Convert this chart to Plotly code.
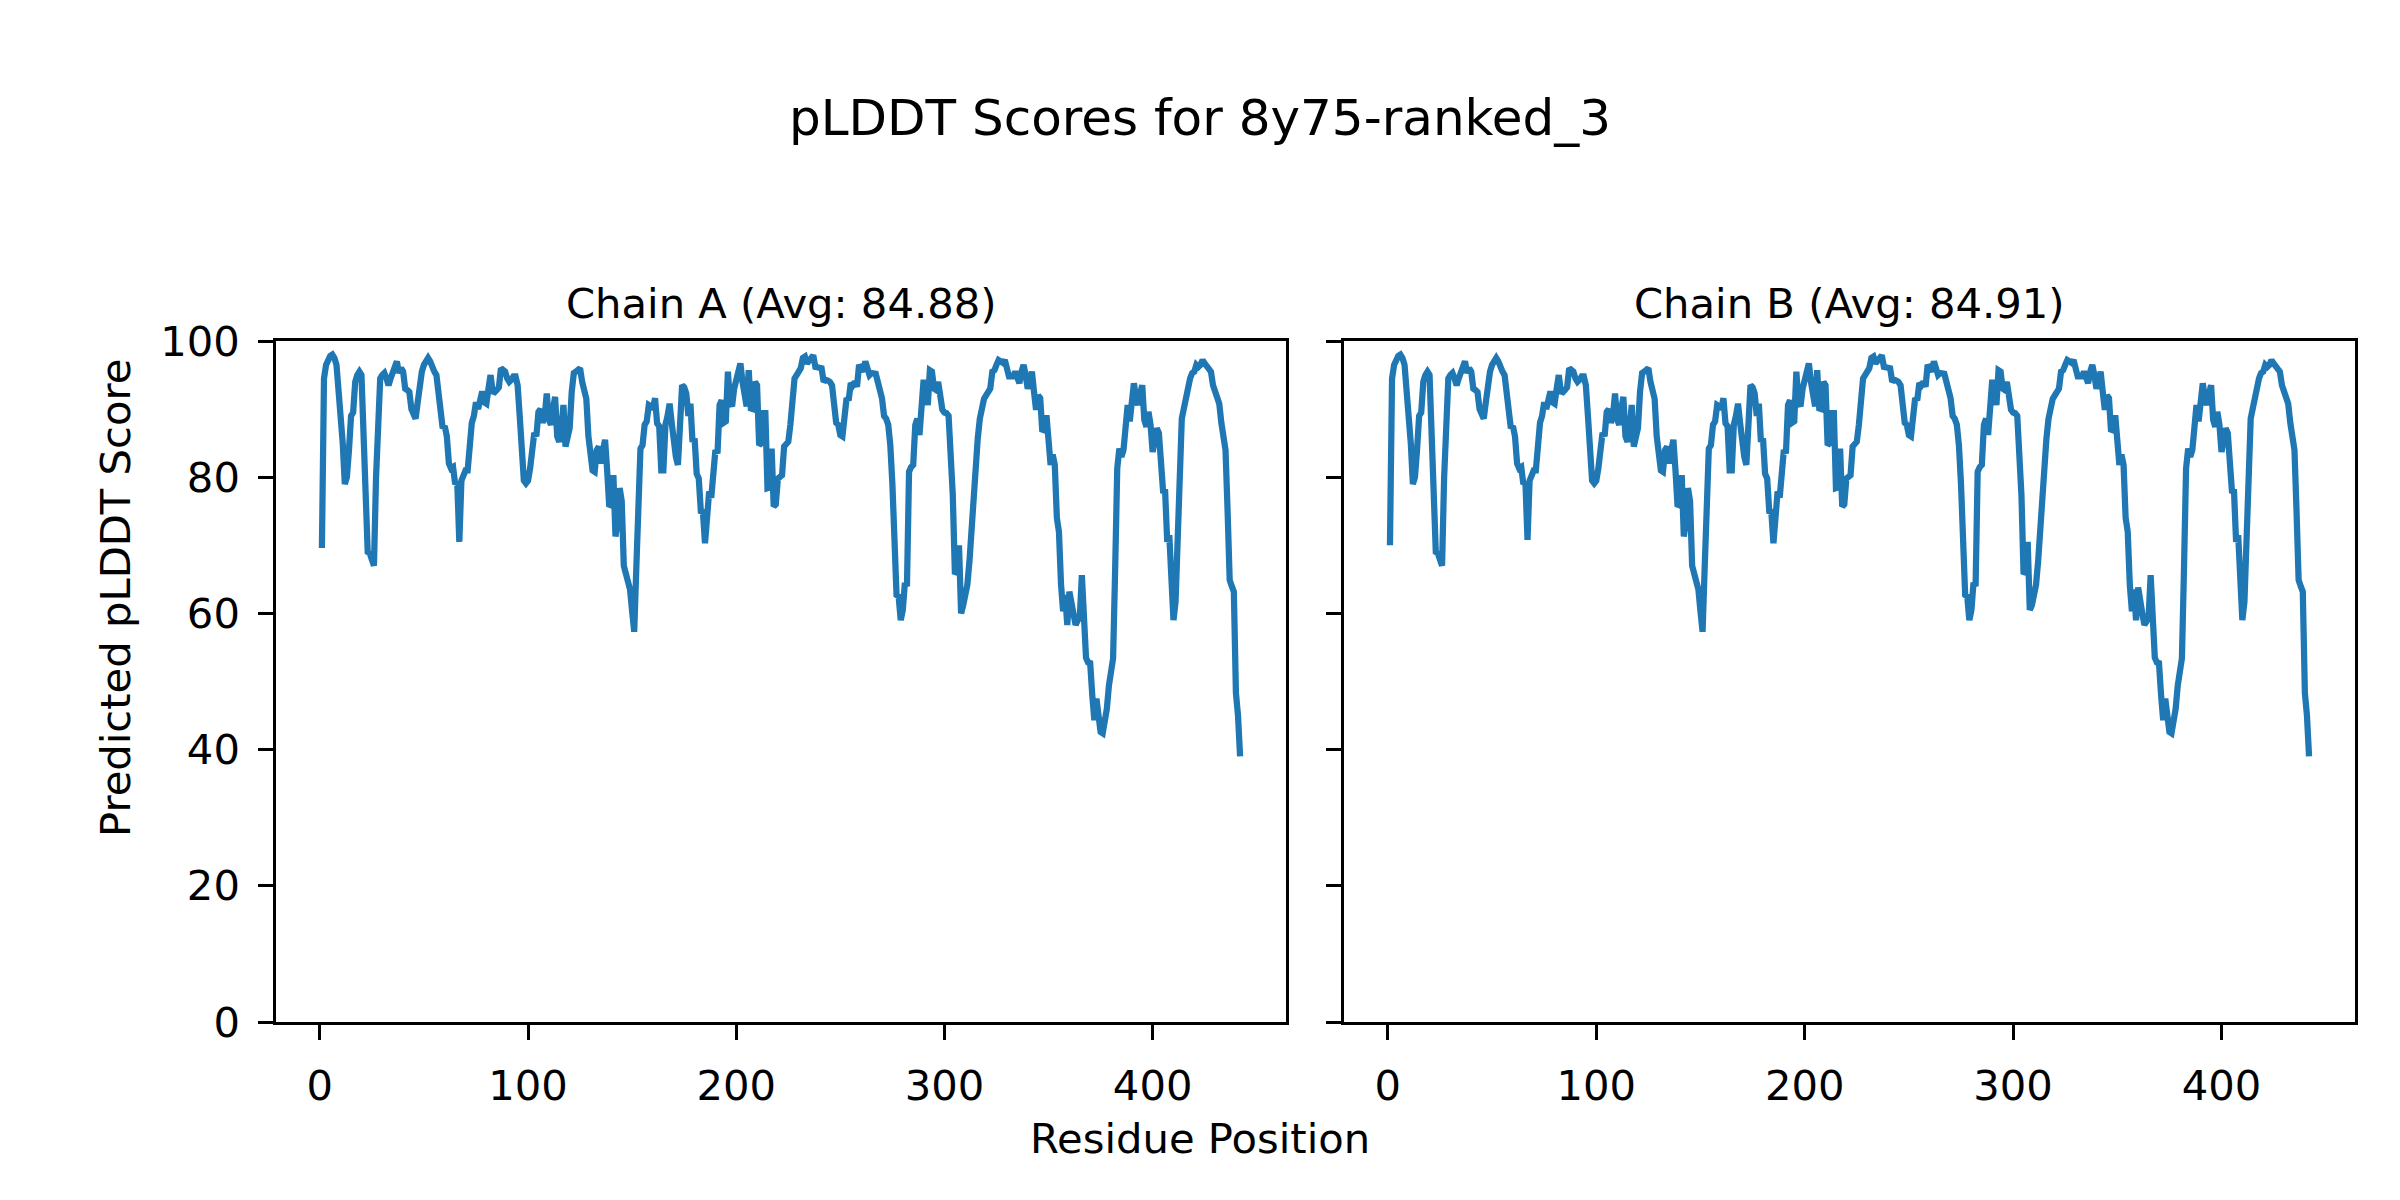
import plotly.graph_objects as go

title_text = "pLDDT Scores for 8y75-ranked_3"
chain_titles = ["Chain A (Avg: 84.88)", "Chain B (Avg: 84.91)"]
x_label = "Residue Position"
y_label = "Predicted pLDDT Score"
x_ticks = [0, 100, 200, 300, 400]
y_ticks = [0, 20, 40, 60, 80, 100]

chain_a_scores = [
    69.6, 94.5, 96.5, 97.5, 97.8, 98, 97.5, 96.5, 93, 90,
    85, 79, 80, 84, 89, 89.5, 94, 95, 95.5, 95,
    86, 74, 69, 68.8, 67.5, 67, 80, 90, 94.5, 95,
    95.3, 94.5, 93.5, 94.5, 95.5, 96.5, 97, 95.3, 96, 95.5,
    93, 92.8, 92.5, 90, 89, 88.6, 91, 94.5, 95.5, 96.5,
    97, 97.5, 97, 96, 95.5, 95, 92, 89.6, 87.2, 87.5,
    86, 82, 81.3, 81.5, 79, 79.3, 70.5, 79.5, 80.3, 81,
    81, 86, 88, 89, 91, 90, 91.5, 92.6, 91, 90.8,
    93, 95, 92.6, 92.5, 92.8, 93.2, 96, 95.8, 95.5, 94.5,
    94, 94.3, 94.8, 94.8, 93.5, 89, 84, 79.5, 79.1, 79.5,
    81.3, 85.2, 86.5, 86, 89.6, 90, 88, 89, 92.3, 88.5,
    87.7, 90, 91.8, 86, 85.2, 87, 90.6, 84.5, 86, 87.2,
    92.6, 95.3, 95.5, 95.8, 96, 94, 92, 91.5, 86, 82.8,
    81, 80.8, 84, 84.5, 82, 84, 85.5, 81, 75.7, 76,
    80.3, 71.3, 73.5, 78.4, 76.5, 67, 65.5, 64.5, 63.5, 60.3,
    57.3, 66.6, 79, 84.2, 84.7, 87.7, 88.2, 90.6, 90.4, 90,
    91.6, 87.9, 87.5, 81, 81, 87.7, 89, 90.8, 88, 84.2,
    83, 81.8, 91, 93.5, 93.2, 92.3, 89, 90.8, 85.2, 85.7,
    80.5, 79.8, 75, 74.9, 70.3, 74.5, 77.9, 77, 81.3, 84,
    83.5, 90.6, 91.3, 88, 88.2, 95.5, 91, 90.4, 93, 94.3,
    94.8, 96.7, 94, 92, 90.4, 95.7, 90.1, 90, 94, 93.5,
    84.7, 85, 89.4, 89.4, 78.4, 78.5, 84.2, 75.7, 76, 79.8,
    80, 80.3, 84.5, 85, 85.2, 87.7, 91, 94.5, 95, 95.5,
    96, 97.5, 97.7, 96.7, 97.2, 97.5, 97.9, 96.2, 96.2, 96,
    96, 94, 94.3, 94.2, 94, 93.5, 91, 88, 87.7, 86.2,
    86, 88.6, 91.6, 91.3, 93.8, 93.5, 94, 93.3, 96.5, 96,
    95.5, 97, 96, 95, 95.3, 95.2, 95.2, 94, 92.8, 91.6,
    89, 88.6, 87.7, 84.7, 79, 73, 62.7, 62.5, 59, 60.5,
    64.5, 64, 80.8, 81.5, 81.8, 87.7, 88.6, 86.2, 90, 94.3,
    92.3, 90.6, 95.7, 95.5, 93, 92.8, 94, 91.3, 89.9, 89.5,
    89.4, 89, 83.7, 77.4, 66.1, 66, 70, 60, 61.2, 63,
    64.2, 67.6, 73, 75.4, 84.2, 85.7, 88.6, 90.6, 91.5, 92,
    92.5, 93, 95.5, 95.7, 96.5, 97.2, 97, 96.8, 97.2, 96.2,
    94.8, 94.8, 94.8, 95.5, 94.5, 93.8, 95.5, 96.5, 95, 93,
    94, 95.5, 92.6, 89.9, 92, 91.6, 86.7, 87, 89.1, 85.7,
    81.8, 83.3, 81.8, 74, 72, 64.2, 60.3, 62.7, 58.3, 63.2,
    61.2, 60, 58.3, 59, 59.3, 65.6, 60.3, 53.5, 52.8, 52.7,
    48, 44.3, 47.5, 44, 42.6, 42.4, 44, 46, 49.4, 51.5,
    53.4, 66.6, 81.3, 84.2, 83, 84, 88.2, 90.6, 88.2, 91,
    93.8, 91.6, 90.6, 92.3, 93.5, 88.4, 87.4, 89.6, 87.7, 83.7,
    85, 87.2, 86.5, 82, 78, 77.9, 70.5, 71.5, 63.7, 59,
    61.7, 71, 81.3, 88.6, 90.1, 91.8, 93.8, 94.5, 95.3, 95.5,
    96.5, 96.2, 96.5, 97.2, 96.7, 96.2, 95.7, 95.5, 93.5, 92.3,
    91.3, 90.8, 88, 86.2, 84, 75, 64.9, 64, 63.2, 48.3,
    45, 39,
]

chain_b_scores = [
    70.0, 94.5, 96.5, 97.5, 97.8, 98, 97.5, 96.5, 93, 90,
    85, 79, 80, 84, 89, 89.5, 94, 95, 95.5, 95,
    86, 74, 69, 68.8, 67.5, 67, 80, 90, 94.5, 95,
    95.3, 94.5, 93.5, 94.5, 95.5, 96.5, 97, 95.3, 96, 95.5,
    93, 92.8, 92.5, 90, 89, 88.6, 91, 94.5, 95.5, 96.5,
    97, 97.5, 97, 96, 95.5, 95, 92, 89.6, 87.2, 87.5,
    86, 82, 81.3, 81.5, 79, 79.3, 70.8, 79.5, 80.3, 81,
    81, 86, 88, 89, 91, 90, 91.5, 92.6, 91, 90.8,
    93, 95, 92.6, 92.5, 92.8, 93.2, 96, 95.8, 95.5, 94.5,
    94, 94.3, 94.8, 94.8, 93.5, 89, 84, 79.5, 79.1, 79.5,
    81.3, 85.2, 86.5, 86, 89.6, 90, 88, 89, 92.3, 88.5,
    87.7, 90, 91.8, 86, 85.2, 87, 90.6, 84.5, 86, 87.2,
    92.6, 95.3, 95.5, 95.8, 96, 94, 92, 91.5, 86, 82.8,
    81, 80.8, 84, 84.5, 82, 84, 85.5, 81, 75.7, 76,
    80.3, 71.3, 73.5, 78.4, 76.5, 67, 65.5, 64.5, 63.5, 60.3,
    57.3, 66.6, 79, 84.2, 84.7, 87.7, 88.2, 90.6, 90.4, 90,
    91.6, 87.9, 87.5, 81, 81, 87.7, 89, 90.8, 88, 84.2,
    83, 81.8, 91, 93.5, 93.2, 92.3, 89, 90.8, 85.2, 85.7,
    80.5, 79.8, 75, 74.9, 70.3, 74.5, 77.9, 77, 81.3, 84,
    83.5, 90.6, 91.3, 88, 88.2, 95.5, 91, 90.4, 93, 94.3,
    94.8, 96.7, 94, 92, 90.4, 95.7, 90.1, 90, 94, 93.5,
    84.7, 85, 89.4, 89.4, 78.4, 78.5, 84.2, 75.7, 76, 79.8,
    80, 80.3, 84.5, 85, 85.2, 87.7, 91, 94.5, 95, 95.5,
    96, 97.5, 97.7, 96.7, 97.2, 97.5, 97.9, 96.2, 96.2, 96,
    96, 94, 94.3, 94.2, 94, 93.5, 91, 88, 87.7, 86.2,
    86, 88.6, 91.6, 91.3, 93.8, 93.5, 94, 93.3, 96.5, 96,
    95.5, 97, 96, 95, 95.3, 95.2, 95.2, 94, 92.8, 91.6,
    89, 88.6, 87.7, 84.7, 79, 73, 62.7, 62.5, 59, 60.5,
    64.5, 64, 80.8, 81.5, 81.8, 87.7, 88.6, 86.2, 90, 94.3,
    92.3, 90.6, 95.7, 95.5, 93, 92.8, 94, 91.3, 89.9, 89.5,
    89.4, 89, 83.7, 77.4, 66.1, 66, 70.5, 60.5, 61.2, 63,
    64.2, 67.6, 73, 75.4, 84.2, 85.7, 88.6, 90.6, 91.5, 92,
    92.5, 93, 95.5, 95.7, 96.5, 97.2, 97, 96.8, 97.2, 96.2,
    94.8, 94.8, 94.8, 95.5, 94.5, 93.8, 95.5, 96.5, 95, 93,
    94, 95.5, 92.6, 89.9, 92, 91.6, 86.7, 87, 89.1, 85.7,
    81.8, 83.3, 81.8, 74, 72, 64.2, 60.3, 63.5, 59, 63.8,
    61.2, 60, 58.3, 59, 59.3, 65.6, 60.3, 53.5, 52.8, 52.7,
    48, 44.3, 47.5, 44, 42.6, 42.4, 44, 46, 49.4, 51.5,
    53.4, 66.6, 81.3, 84.2, 83, 84, 88.2, 90.6, 88.2, 91,
    93.8, 91.6, 90.6, 92.3, 93.5, 88.4, 87.4, 89.6, 87.7, 83.7,
    85, 87.2, 86.5, 82, 78, 77.9, 70.5, 71.5, 63.7, 59,
    61.7, 71, 81.3, 88.6, 90.1, 91.8, 93.8, 94.5, 95.3, 95.5,
    96.5, 96.2, 96.5, 97.2, 96.7, 96.2, 95.7, 95.5, 93.5, 92.3,
    91.3, 90.8, 88, 86.2, 84, 75, 64.9, 64, 63.2, 48.3,
    45, 39,
]

residues_a = list(range(1, len(chain_a_scores) + 1))
residues_b = list(range(1, len(chain_b_scores) + 1))

W, H = 2400, 1200
OFF = 8  # browser page margin offset to compensate
FONT = "DejaVu Sans"
FS = 41.7
LINE_COLOR = "#1f77b4"
SPINE = 3.3


def px_x(v):
    return (v - OFF) / W


def px_y(v):
    return 1 - (v - OFF) / H


fig = go.Figure()
fig.add_trace(go.Scatter(x=residues_a, y=chain_a_scores, mode="lines",
                         line=dict(color=LINE_COLOR, width=6.25),
                         xaxis="x", yaxis="y", showlegend=False))
fig.add_trace(go.Scatter(x=residues_b, y=chain_b_scores, mode="lines",
                         line=dict(color=LINE_COLOR, width=6.25),
                         xaxis="x2", yaxis="y2", showlegend=False))

xmin = 1 - 0.05 * (len(chain_a_scores) - 1)
xmax = len(chain_a_scores) + 0.05 * (len(chain_a_scores) - 1)

common_axis = dict(
    showline=True, linecolor="black", linewidth=SPINE, mirror=True,
    ticks="outside", ticklen=14.6, tickwidth=SPINE, tickcolor="black",
    showgrid=False, zeroline=False, automargin=False,
    tickfont=dict(family=FONT, size=FS, color="black"),
    ticklabelstandoff=10,
)

dom_a = [px_x(276), px_x(1286)]
dom_b = [px_x(1344), px_x(2355)]
dom_y = [px_y(1022), px_y(341)]

fig.update_layout(
    width=W, height=H,
    margin=dict(l=0, r=0, t=0, b=0, autoexpand=False),
    paper_bgcolor="white", plot_bgcolor="white",
    font=dict(family=FONT, size=FS, color="black"),
    xaxis=dict(domain=dom_a, range=[xmin, xmax], tickvals=x_ticks,
               anchor="y", **common_axis),
    yaxis=dict(domain=dom_y, range=[0, 100], tickvals=y_ticks,
               anchor="x", **common_axis),
    xaxis2=dict(domain=dom_b, range=[xmin, xmax], tickvals=x_ticks,
                anchor="y2", **common_axis),
    yaxis2=dict(domain=dom_y, range=[0, 100], tickvals=y_ticks,
                anchor="x2", showticklabels=False, **common_axis),
)

annotations = [
    dict(text=title_text, x=px_x(1200), y=px_y(118), xref="paper", yref="paper",
         showarrow=False, xanchor="center", yanchor="middle",
         font=dict(family=FONT, size=50, color="black")),
    dict(text=chain_titles[0], x=(dom_a[0] + dom_a[1]) / 2, y=px_y(303),
         xref="paper", yref="paper", showarrow=False,
         xanchor="center", yanchor="middle",
         font=dict(family=FONT, size=FS, color="black")),
    dict(text=chain_titles[1], x=(dom_b[0] + dom_b[1]) / 2, y=px_y(303),
         xref="paper", yref="paper", showarrow=False,
         xanchor="center", yanchor="middle",
         font=dict(family=FONT, size=FS, color="black")),
    dict(text=x_label, x=px_x(1200), y=px_y(1138), xref="paper", yref="paper",
         showarrow=False, xanchor="center", yanchor="middle",
         font=dict(family=FONT, size=FS, color="black")),
    dict(text=y_label, x=px_x(115), y=px_y(598), xref="paper", yref="paper",
         showarrow=False, xanchor="center", yanchor="middle", textangle=-90,
         font=dict(family=FONT, size=FS, color="black")),
]
fig.update_layout(annotations=annotations)

fig.write_html("out.html")
